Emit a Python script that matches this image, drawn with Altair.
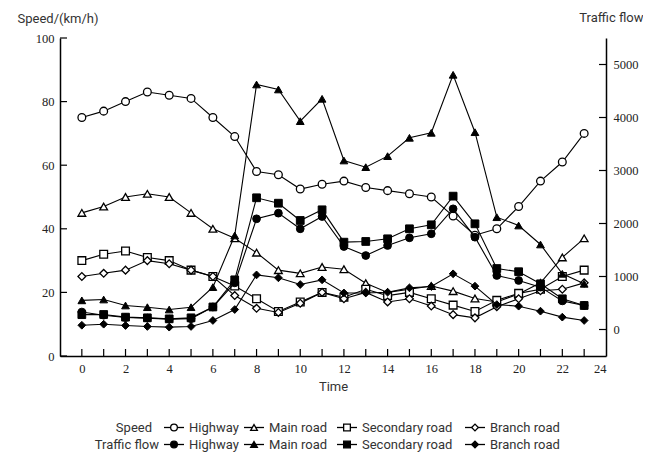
import altair as alt
import pandas as pd

hours = list(range(24))
roads = ["Highway", "Main road", "Secondary road", "Branch road"]
shapes = ["circle", "triangle-up", "square", "diamond"]

speed_highway = [75, 77, 80, 83, 82, 81, 75, 69, 58, 57, 52.5, 54, 55, 53, 52, 51, 50, 44, 38, 40, 47, 55, 61, 70]
speed_main = [45, 47, 50, 51, 50, 45, 40, 37, 32.5, 27, 26, 28, 27.3, 22.9, 20, 21, 22, 20.4, 18.1, 17, 19.5, 23, 31, 37]
speed_secondary = [30, 32, 33, 31, 30, 27, 25, 22, 18, 14, 17, 20, 18.5, 21, 19, 20, 18, 16, 14, 17.5, 19.7, 21, 25, 27]
speed_branch = [25, 26, 27, 30, 29, 27, 25, 19, 15, 13.7, 16.6, 20, 18, 20, 17, 18, 15.7, 13, 12, 15.5, 18, 20.5, 21, 23]

flow_highway = [330, 270, 225, 215, 195, 205, 425, 880, 2089, 2195, 1900, 2132, 1566, 1396, 1585, 1730, 1806, 2277, 1742, 1019, 925, 799, 540, 453]
flow_main = [550, 566, 453, 421, 377, 421, 800, 1774, 4623, 4529, 3931, 4353, 3189, 3063, 3271, 3617, 3711, 4806, 3723, 2119, 1962, 1604, 1051, 862]
flow_secondary = [280, 283, 233, 220, 201, 220, 425, 937, 2485, 2383, 2057, 2258, 1648, 1661, 1711, 1900, 1975, 2516, 1994, 1150, 1090, 862, 579, 453]
flow_branch = [80, 100, 75, 57, 44, 57, 170, 377, 1030, 975, 849, 937, 690, 690, 704, 786, 811, 1051, 818, 470, 440, 346, 233, 170]

speed_ticks = [0, 20, 40, 60, 80, 100]
flow_ticks = [0, 1000, 2000, 3000, 4000, 5000]
x_labels = list(range(0, 25, 2))
x_ticks = list(range(0, 24))


def long_table(series):
    rows = []
    for road, vals in zip(roads, series):
        for h, v in zip(hours, vals):
            rows.append({"hour": h, "road": road, "value": v})
    return pd.DataFrame(rows)


speed_df = long_table([speed_highway, speed_main, speed_secondary, speed_branch])
flow_df = long_table([flow_highway, flow_main, flow_secondary, flow_branch])

W, H = 546, 318
TICK = 7
LABEL_FONT = "Times New Roman"
TEXT_FONT = "Roboto"

common_axis = dict(labelFont=LABEL_FONT, labelFontSize=12.5, labelColor="#222",
                   titleFont=TEXT_FONT, titleFontSize=13, titleColor="#333",
                   titleFontWeight="normal", domainColor="black", domainWidth=1.5,
                   ticks=False, grid=False)

x_scale = alt.Scale(domain=[-1, 24], nice=False, zero=False)
x_axis = alt.Axis(values=x_labels, title="Time", format="d",
                  labelPadding=6, titlePadding=6, **common_axis)
x_enc = alt.X("hour:Q", scale=x_scale, axis=x_axis)

sp_scale = alt.Scale(domain=[0, 100], nice=False, zero=False)
sp_axis = alt.Axis(orient="left", values=speed_ticks, format="d",
                   title="Speed/(km/h)", titleAngle=0, titleAlign="left",
                   titleBaseline="middle", titleX=-43, titleY=-20, labelPadding=6,
                   **common_axis)
fl_scale = alt.Scale(domain=[-500, 5500], nice=False, zero=False)
fl_axis = alt.Axis(orient="right", values=flow_ticks, format="d",
                   title="Traffic flow", titleAngle=0, titleAlign="right",
                   titleBaseline="middle", titleX=37, titleY=-21, labelPadding=7,
                   **common_axis)

shape_enc = alt.Shape("road:N", scale=alt.Scale(domain=roads, range=shapes), legend=None)

speed_lines = alt.Chart(speed_df).mark_line(color="black", strokeWidth=1.1).encode(
    x=x_enc, y=alt.Y("value:Q", scale=sp_scale, axis=sp_axis), detail="road:N")
speed_points = alt.Chart(speed_df).mark_point(
    filled=True, fill="white", stroke="black", strokeWidth=1.3, size=60, opacity=1
).encode(x=x_enc, y=alt.Y("value:Q", scale=sp_scale, axis=sp_axis), shape=shape_enc)

left_ticks = alt.Chart(pd.DataFrame({"value": speed_ticks})).mark_rule(
    color="black", strokeWidth=1.2).encode(
    y=alt.Y("value:Q", scale=sp_scale, axis=sp_axis), x=alt.value(0), x2=alt.value(TICK))
bottom_ticks = alt.Chart(pd.DataFrame({"hour": x_ticks})).mark_rule(
    color="black", strokeWidth=1.2).encode(
    x=x_enc, y=alt.value(H), y2=alt.value(H - TICK))

flow_lines = alt.Chart(flow_df).mark_line(color="black", strokeWidth=1.1).encode(
    x=x_enc, y=alt.Y("value:Q", scale=fl_scale, axis=fl_axis), detail="road:N")
flow_points = alt.Chart(flow_df).mark_point(
    filled=True, fill="black", stroke="black", strokeWidth=1, size=60, opacity=1
).encode(x=x_enc, y=alt.Y("value:Q", scale=fl_scale, axis=fl_axis), shape=shape_enc)
right_ticks = alt.Chart(pd.DataFrame({"value": flow_ticks})).mark_rule(
    color="black", strokeWidth=1.2).encode(
    y=alt.Y("value:Q", scale=fl_scale, axis=fl_axis), x=alt.value(W), x2=alt.value(W - TICK))

speed_group = alt.layer(speed_lines, speed_points, left_ticks, bottom_ticks)
flow_group = alt.layer(flow_lines, flow_points, right_ticks)
main = alt.layer(speed_group, flow_group).resolve_scale(y="independent").properties(
    width=W, height=H)

# ---- legend built below the plot ----
row_names = ["Speed", "Traffic flow"]
label_width = {"Highway": 50, "Main road": 63, "Secondary road": 98, "Branch road": 72}
row_title_end = {"Speed": 92, "Traffic flow": 99}
SEG = 10
first_sym = 114
items = []
for row, fill in zip(row_names, ["white", "black"]):
    sx = first_sym
    for road in roads:
        lx = sx + SEG + 5
        items.append({"row": row, "road": road, "sx": sx, "x1": sx - SEG, "x2": sx + SEG,
                      "lx": lx, "fill": fill})
        sx = lx + label_width[road] + SEG + 5
legend_df = pd.DataFrame(items)
titles_df = pd.DataFrame({"row": row_names, "tx": [row_title_end[r] for r in row_names]})

lx_scale = alt.Scale(domain=[0, W], nice=False, zero=False)
ly = alt.Y("row:N", scale=alt.Scale(domain=row_names, type="point", padding=0.5), axis=None)

leg_rules = alt.Chart(legend_df).mark_rule(color="black", strokeWidth=1.3).encode(
    x=alt.X("x1:Q", scale=lx_scale, axis=None), x2="x2:Q", y=ly)
leg_points = alt.Chart(legend_df).mark_point(
    filled=True, stroke="black", strokeWidth=1.3, size=45, opacity=1).encode(
    x=alt.X("sx:Q", scale=lx_scale, axis=None), y=ly,
    shape=shape_enc, fill=alt.Fill("fill:N", scale=None))
leg_labels = alt.Chart(legend_df).mark_text(
    align="left", baseline="middle", font=TEXT_FONT, fontSize=13, color="#333").encode(
    x=alt.X("lx:Q", scale=lx_scale, axis=None), y=ly, text="road:N")
leg_titles = alt.Chart(titles_df).mark_text(
    align="right", baseline="middle", font=TEXT_FONT, fontSize=13, color="#333").encode(
    x=alt.X("tx:Q", scale=lx_scale, axis=None), y=ly, text="row:N")

legend = alt.layer(leg_rules, leg_points, leg_labels, leg_titles).properties(width=W, height=34)

chart = alt.vconcat(main, legend, spacing=25).properties(
    padding={"left": 17, "top": 11, "right": 0, "bottom": 0}
).configure_view(stroke=None)

chart.save("out.html", embed_options={"renderer": "svg", "actions": False})
